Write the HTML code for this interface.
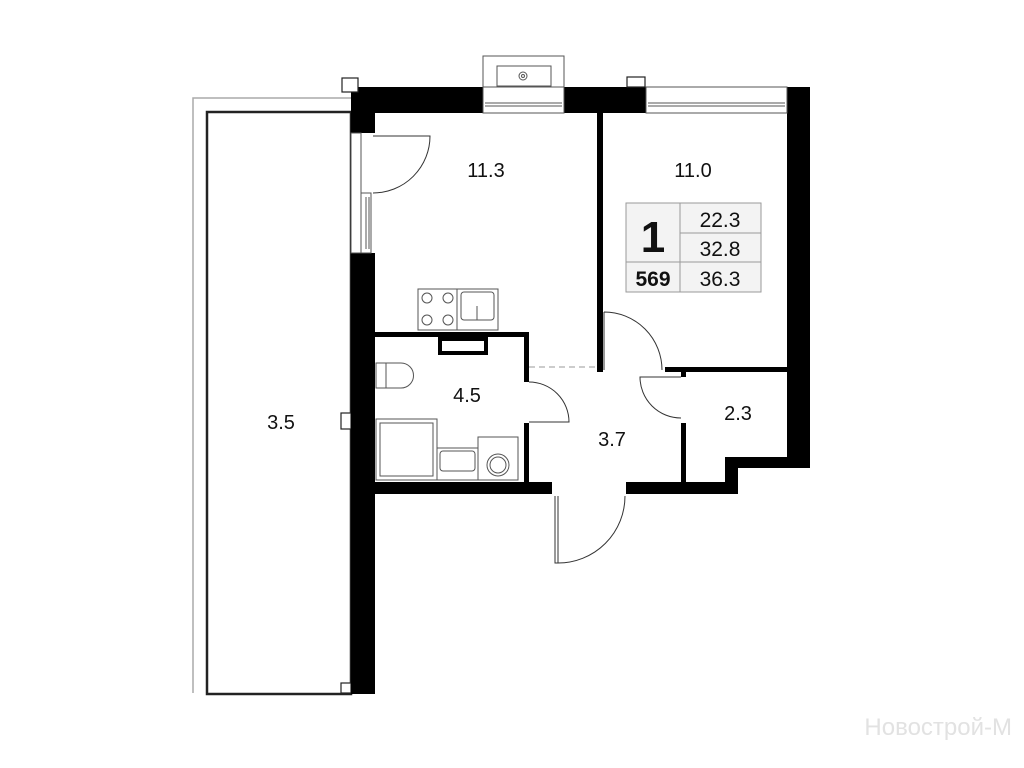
<!DOCTYPE html>
<html><head><meta charset="utf-8"><style>
html,body{margin:0;padding:0;background:#fff;width:1024px;height:768px;overflow:hidden}
svg{display:block}
text{font-family:"Liberation Sans",sans-serif;fill:#111}
</style></head><body>
<svg width="1024" height="768" viewBox="0 0 1024 768" xmlns="http://www.w3.org/2000/svg">
<polyline points="193,693 193,98 351,98" fill="none" stroke="#aaa" stroke-width="1.5"/>
<rect x="207" y="112" width="144" height="582" fill="none" stroke="#222" stroke-width="2.5"/>
<rect x="341" y="683" width="10" height="10" fill="#fff" stroke="#222" stroke-width="1.2"/>
<rect x="341" y="413" width="10" height="16" fill="#fff" stroke="#222" stroke-width="1.2"/>
<g fill="#000">
<rect x="351" y="87" width="132" height="26"/>
<rect x="564" y="87" width="82" height="26"/>
<rect x="787" y="87" width="23" height="381"/>
<rect x="351" y="87" width="24" height="46"/>
<rect x="351" y="253" width="24" height="441"/>
<rect x="597" y="113" width="6" height="259"/>
<rect x="375" y="332" width="154" height="5"/>
<rect x="524" y="332" width="5" height="50"/>
<rect x="524" y="423" width="5" height="60"/>
<rect x="375" y="482" width="177" height="12"/>
<rect x="626" y="482" width="112" height="12"/>
<rect x="725" y="457" width="13" height="37"/>
<rect x="725" y="457" width="85" height="11"/>
<rect x="665" y="367" width="122" height="5"/>
<rect x="681" y="367" width="5" height="10"/>
<rect x="681" y="423" width="5" height="60"/>
</g>
<rect x="440" y="339" width="46" height="14" fill="#fff" stroke="#000" stroke-width="4"/>
<rect x="342" y="78" width="16" height="14" fill="#fff" stroke="#222" stroke-width="1.2"/>
<rect x="627" y="77" width="18" height="10" fill="#fff" stroke="#222" stroke-width="1.2"/>
<g fill="#fff" stroke="#555" stroke-width="1">
<rect x="483" y="56" width="81" height="31"/>
<rect x="497" y="66" width="54" height="20"/>
<rect x="483" y="87" width="81" height="26"/>
<line x1="485" y1="103" x2="562" y2="103"/><line x1="485" y1="106" x2="562" y2="106"/>
<rect x="646" y="87" width="141" height="26"/>
<line x1="648" y1="103" x2="785" y2="103"/><line x1="648" y1="106" x2="785" y2="106"/>
<rect x="351" y="133" width="10" height="120"/>
<rect x="361" y="193" width="10" height="60"/>
<line x1="366" y1="197" x2="366" y2="249"/><line x1="369" y1="197" x2="369" y2="249"/>
</g>
<circle cx="523" cy="76" r="4" fill="none" stroke="#555"/><circle cx="523" cy="76" r="1.5" fill="none" stroke="#555"/>
<g fill="none" stroke="#333" stroke-width="1">
<path d="M373,136 L430,136 A57,57 0 0 1 373,193"/>
<path d="M604,312 L604,370 M604,312 A58,58 0 0 1 662,370"/>
<path d="M529,382 A40,40 0 0 1 569,422 L529,422"/>
<path d="M681,377 L640,377 A41,41 0 0 0 681,418"/>
<path d="M555,496 L555,563 L558,563 L558,496 M558,563 A67,67 0 0 0 625,496"/>
<line x1="529" y1="367" x2="597" y2="367" stroke="#999" stroke-dasharray="6,4"/>
</g>
<g fill="#fff" stroke="#555" stroke-width="1">
<rect x="418" y="289" width="39" height="41"/>
<circle cx="427" cy="298" r="5"/><circle cx="448" cy="298" r="5"/><circle cx="427" cy="320" r="5"/><circle cx="448" cy="320" r="5"/>
<rect x="457" y="289" width="41" height="41"/><rect x="461" y="292" width="33" height="28" rx="3"/>
<line x1="477" y1="306" x2="477" y2="320"/>
<path d="M376,363 L401,363 A12.5,12.5 0 0 1 401,388 L376,388 Z"/><line x1="386" y1="363" x2="386" y2="388"/>
<rect x="376" y="419" width="61" height="61"/><rect x="380" y="423" width="53" height="53"/>
<rect x="437" y="448" width="41" height="32"/><rect x="440" y="451" width="35" height="20" rx="3"/>
<rect x="478" y="437" width="40" height="43"/><circle cx="498" cy="465" r="11"/><circle cx="498" cy="465" r="8"/>
</g>
<g stroke="#999" stroke-width="1">
<rect x="626" y="203" width="135" height="89" fill="#f3f3f3"/>
<line x1="680" y1="203" x2="680" y2="292"/>
<line x1="680" y1="233" x2="761" y2="233"/>
<line x1="626" y1="262" x2="761" y2="262"/>
</g>
<text x="653" y="252" font-size="44" font-weight="bold" text-anchor="middle">1</text>
<text x="653" y="286" font-size="21" font-weight="bold" text-anchor="middle">569</text>
<text x="720" y="227" font-size="21" text-anchor="middle">22.3</text>
<text x="720" y="256" font-size="21" text-anchor="middle">32.8</text>
<text x="720" y="286" font-size="21" text-anchor="middle">36.3</text>
<g font-size="20" text-anchor="middle">
<text x="486" y="177">11.3</text>
<text x="693" y="177">11.0</text>
<text x="467" y="402">4.5</text>
<text x="612" y="446">3.7</text>
<text x="738" y="420">2.3</text>
<text x="281" y="429">3.5</text>
</g>
<text x="1012" y="735" font-size="24" text-anchor="end" style="fill:#e2e2e2">Новострой-М</text>
</svg>
</body></html>
